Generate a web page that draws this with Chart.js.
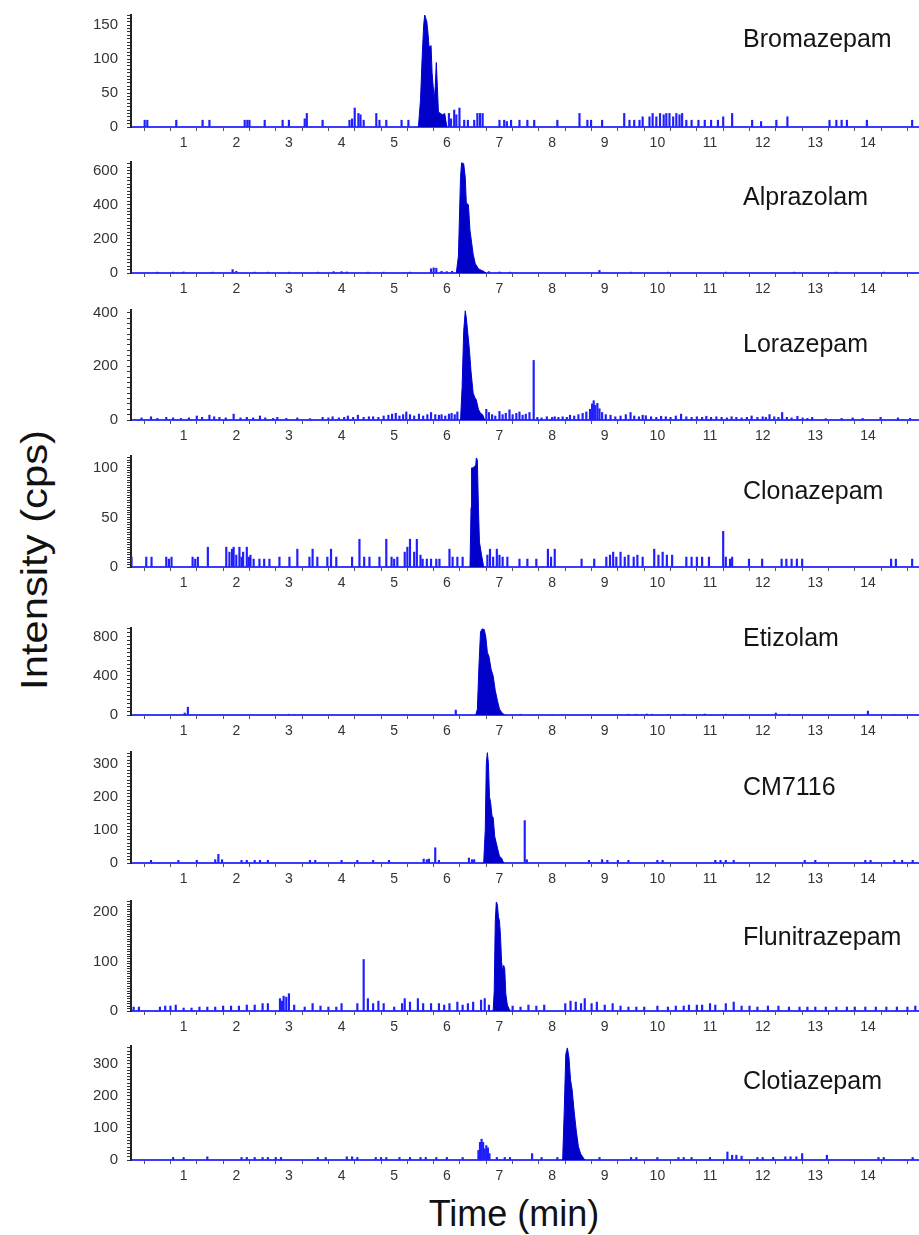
<!DOCTYPE html>
<html>
<head>
<meta charset="utf-8">
<script src="https://cdn.jsdelivr.net/npm/chart.js@4.4.0/dist/chart.umd.min.js"></script>
<style>
    html, body { margin: 0; padding: 0; background: #fff; overflow: hidden; }
    #wrap { position: relative; width: 919px; height: 1235px; }
    #wrap canvas { position: absolute; left: 0; }
    .name { position: absolute; left: 743px; font: 25px "Liberation Sans", Arial, sans-serif; color: #151515; white-space: nowrap; line-height: 28px; }
    .title { position: absolute; width: 0; height: 0; }
    .title span { position: absolute; left: 0; top: 0; white-space: nowrap; font: 36px "Liberation Sans", Arial, sans-serif; color: #111; }
</style>
</head>
<body>
<div id="wrap">
    <div class="title" style="left:35px;top:560px"><span style="transform:translate(-50%,-50%) rotate(-90deg) scaleX(1.16)">Intensity (cps)</span></div>
    <div class="title" style="left:514px;top:1214px"><span style="transform:translate(-50%,-50%)">Time (min)</span></div>
</div>
<script>
// compounds, top to bottom
const compounds = ["Bromazepam", "Alprazolam", "Lorazepam", "Clonazepam", "Etizolam", "CM7116", "Flunitrazepam", "Clotiazepam"];
const yMax = [165, 650, 410, 112, 890, 335, 222, 356];
const yMajor = [50, 200, 200, 50, 400, 100, 100, 100];
const yMinor = [5, 20, 20, 2.5, 40, 10, 5, 10];
const xTickLabels = [1, 2, 3, 4, 5, 6, 7, 8, 9, 10, 11, 12, 13, 14];

// main peaks (time in min, intensity in cps)
const bromPeakT = [5.46, 5.5, 5.53, 5.56, 5.58, 5.6, 5.62, 5.64, 5.66, 5.68, 5.7, 5.72, 5.74, 5.76, 5.78, 5.8, 5.82, 5.84, 5.88, 5.92, 5.96, 6.0];
const bromPeakY = [0, 40, 100, 150, 165, 160, 155, 140, 120, 118, 120, 80, 60, 40, 60, 95, 60, 22, 20, 18, 20, 0];
const alpPeakT = [6.18, 6.22, 6.26, 6.28, 6.32, 6.35, 6.37, 6.41, 6.44, 6.47, 6.5, 6.54, 6.6, 6.66, 6.7, 6.74];
const alpPeakY = [0, 100, 560, 645, 640, 560, 410, 400, 250, 180, 110, 55, 25, 15, 10, 0];
const lorPeakT = [6.26, 6.29, 6.32, 6.35, 6.37, 6.4, 6.43, 6.46, 6.5, 6.53, 6.56, 6.6, 6.64, 6.68, 6.72];
const lorPeakY = [0, 120, 330, 407, 380, 320, 260, 180, 100, 85, 75, 40, 25, 20, 0];
const cloPeakT = [6.44, 6.46, 6.47, 6.5, 6.53, 6.55, 6.56, 6.58, 6.6, 6.62, 6.66, 6.7];
const cloPeakY = [0, 60, 100, 100, 102, 103, 110, 108, 60, 25, 12, 0];
const etiPeakT = [6.55, 6.58, 6.61, 6.64, 6.67, 6.71, 6.74, 6.77, 6.8, 6.84, 6.88, 6.92, 6.96, 7.0, 7.05, 7.1];
const etiPeakY = [0, 60, 500, 850, 880, 875, 800, 640, 600, 470, 400, 250, 150, 60, 20, 0];
const cmPeakT = [6.7, 6.73, 6.75, 6.77, 6.79, 6.81, 6.83, 6.86, 6.88, 6.91, 6.94, 6.97, 7.0, 7.04, 7.08];
const cmPeakY = [0, 100, 300, 333, 300, 200, 185, 140, 138, 80, 60, 40, 20, 15, 0];
const fluPeakT = [6.88, 6.9, 6.92, 6.94, 6.96, 6.98, 7.0, 7.02, 7.04, 7.06, 7.08, 7.1, 7.12, 7.15, 7.2];
const fluPeakY = [0, 40, 180, 220, 215, 190, 182, 150, 100, 80, 92, 85, 35, 12, 0];
const cltPeakT = [8.2, 8.23, 8.26, 8.29, 8.32, 8.35, 8.38, 8.42, 8.46, 8.5, 8.54, 8.58, 8.62];
const cltPeakY = [0, 150, 330, 350, 320, 250, 220, 150, 90, 41, 20, 10, 0];

// noise spikes and minor peaks
const bromNoiseT = [0.26, 0.31, 0.86, 1.36, 1.49, 2.16, 2.21, 2.25, 2.54, 2.88, 3.0, 3.3, 3.34, 3.64, 4.15, 4.2, 4.25, 4.32, 4.36, 4.42, 4.66, 4.72, 4.85, 5.14, 5.27, 6.04, 6.08, 6.14, 6.18, 6.24, 6.33, 6.4, 6.52, 6.58, 6.63, 6.68, 7.0, 7.09, 7.14, 7.22, 7.38, 7.53, 7.66, 8.1, 8.52, 8.67, 8.74, 8.95, 9.37, 9.47, 9.56, 9.66, 9.72, 9.85, 9.91, 9.98, 10.05, 10.12, 10.17, 10.23, 10.3, 10.36, 10.42, 10.47, 10.55, 10.65, 10.78, 10.9, 11.02, 11.15, 11.25, 11.42, 11.8, 11.97, 12.26, 12.47, 13.27, 13.4, 13.5, 13.6, 13.98, 14.84];
const bromNoiseY = [10, 10, 10, 10, 10, 10, 10, 10, 10, 10, 10, 12, 20, 10, 10, 12, 28, 20, 18, 10, 20, 10, 10, 10, 10, 20, 12, 25, 18, 28, 10, 10, 10, 20, 20, 20, 10, 10, 8, 10, 10, 10, 10, 10, 20, 10, 10, 10, 20, 10, 10, 10, 15, 15, 20, 15, 20, 18, 20, 20, 15, 20, 18, 20, 10, 10, 10, 10, 10, 10, 15, 20, 10, 8, 10, 15, 10, 10, 10, 10, 10, 10];
const alpNoiseT = [0.5, 0.8, 1.0, 1.55, 1.93, 2.0, 2.35, 2.6, 3.0, 3.55, 3.85, 4.0, 4.1, 4.5, 4.8, 5.3, 5.7, 5.75, 5.8, 5.9, 6.0, 6.1, 6.8, 7.0, 7.2, 8.9, 9.5, 10.2, 11.3, 12.6, 13.4, 14.3];
const alpNoiseY = [5, 5, 6, 5, 20, 10, 5, 5, 5, 5, 8, 8, 6, 5, 5, 5, 25, 30, 28, 10, 8, 10, 8, 6, 5, 15, 5, 5, 5, 5, 5, 5];
const lorNoiseT = [0.2, 0.38, 0.5, 0.67, 0.8, 0.95, 1.1, 1.25, 1.35, 1.49, 1.58, 1.68, 1.8, 1.95, 2.08, 2.2, 2.32, 2.45, 2.55, 2.7, 2.78, 2.95, 3.16, 3.4, 3.64, 3.75, 3.83, 3.95, 4.05, 4.12, 4.22, 4.31, 4.42, 4.52, 4.6, 4.7, 4.8, 4.89, 4.96, 5.03, 5.1, 5.17, 5.23, 5.3, 5.38, 5.47, 5.55, 5.63, 5.7, 5.78, 5.85, 5.9, 5.97, 6.04, 6.09, 6.15, 6.2, 6.75, 6.8, 6.86, 6.92, 7.0, 7.06, 7.12, 7.19, 7.25, 7.32, 7.38, 7.44, 7.5, 7.57, 7.65, 7.72, 7.8, 7.9, 8.0, 8.05, 8.12, 8.2, 8.28, 8.34, 8.42, 8.5, 8.58, 8.65, 8.72, 8.76, 8.79, 8.82, 8.86, 8.9, 8.95, 9.02, 9.11, 9.2, 9.3, 9.4, 9.49, 9.56, 9.65, 9.72, 9.78, 9.88, 9.98, 10.07, 10.16, 10.25, 10.35, 10.45, 10.55, 10.65, 10.75, 10.85, 10.93, 11.02, 11.12, 11.22, 11.32, 11.41, 11.5, 11.6, 11.7, 11.79, 11.9, 12.0, 12.06, 12.13, 12.22, 12.3, 12.37, 12.46, 12.55, 12.66, 12.76, 12.85, 12.94, 13.2, 13.5, 13.71, 13.9, 14.24, 14.57, 14.8];
const lorNoiseY = [8, 12, 6, 10, 8, 6, 8, 15, 10, 18, 12, 10, 8, 22, 8, 10, 8, 15, 8, 6, 10, 6, 8, 5, 10, 8, 12, 8, 10, 15, 10, 18, 10, 12, 12, 10, 15, 18, 22, 25, 15, 20, 30, 20, 15, 22, 15, 20, 28, 20, 18, 20, 15, 22, 25, 20, 30, 40, 28, 20, 15, 32, 20, 25, 38, 20, 25, 30, 18, 22, 28, 222, 10, 8, 12, 10, 12, 10, 12, 10, 18, 15, 20, 25, 30, 40, 60, 72, 55, 62, 42, 28, 20, 18, 12, 15, 20, 28, 15, 12, 18, 16, 12, 10, 14, 12, 10, 15, 22, 12, 10, 12, 10, 14, 10, 12, 10, 8, 12, 10, 8, 10, 15, 10, 12, 10, 20, 12, 10, 28, 10, 8, 14, 8, 6, 10, 5, 6, 8, 6, 10, 8, 6];
const cloNoiseT = [0.01, 0.29, 0.39, 0.67, 0.72, 0.77, 1.17, 1.22, 1.27, 1.46, 1.81, 1.87, 1.92, 1.95, 2.0, 2.06, 2.1, 2.13, 2.2, 2.24, 2.27, 2.33, 2.44, 2.53, 2.63, 2.82, 3.01, 3.16, 3.39, 3.45, 3.54, 3.73, 3.8, 3.9, 4.2, 4.34, 4.43, 4.53, 4.72, 4.85, 4.95, 5.0, 5.06, 5.2, 5.25, 5.3, 5.38, 5.43, 5.5, 5.54, 5.62, 5.7, 5.8, 5.86, 6.05, 6.11, 6.2, 6.3, 6.77, 6.82, 6.88, 6.95, 7.0, 7.06, 7.15, 7.38, 7.53, 7.7, 7.92, 7.98, 8.05, 8.56, 8.8, 9.03, 9.1, 9.16, 9.22, 9.3, 9.38, 9.45, 9.55, 9.62, 9.72, 9.94, 10.02, 10.1, 10.18, 10.28, 10.55, 10.65, 10.75, 10.85, 10.98, 11.25, 11.3, 11.38, 11.42, 11.74, 11.99, 12.36, 12.45, 12.55, 12.65, 12.75, 14.44, 14.53, 14.84];
const cloNoiseY = [10, 10, 10, 10, 8, 10, 10, 8, 10, 20, 20, 15, 18, 20, 12, 20, 10, 15, 20, 10, 12, 8, 8, 8, 8, 10, 10, 18, 10, 18, 10, 10, 18, 10, 10, 28, 10, 10, 10, 28, 10, 8, 10, 15, 20, 28, 15, 28, 12, 8, 8, 8, 8, 8, 18, 10, 10, 10, 12, 18, 10, 18, 12, 10, 10, 8, 8, 8, 18, 10, 18, 8, 8, 10, 12, 15, 10, 15, 10, 12, 10, 12, 10, 18, 12, 15, 12, 12, 10, 10, 10, 10, 10, 36, 10, 8, 10, 8, 8, 8, 8, 8, 8, 8, 8, 8, 8];
const etiNoiseT = [1.02, 1.08, 3.0, 3.1, 6.17, 7.4, 8.0, 9.45, 9.6, 9.8, 9.9, 10.2, 10.5, 10.9, 11.3, 11.6, 12.25, 12.5, 14.0, 14.5];
const etiNoiseY = [20, 80, 8, 6, 50, 8, 6, 8, 8, 10, 8, 6, 8, 10, 8, 6, 20, 8, 40, 6];
const cmNoiseT = [0.38, 0.9, 1.25, 1.6, 1.66, 1.73, 2.1, 2.2, 2.35, 2.45, 2.6, 3.4, 3.5, 4.0, 4.3, 4.6, 4.9, 5.56, 5.62, 5.66, 5.78, 5.85, 6.42, 6.48, 6.52, 7.48, 7.52, 8.7, 8.95, 9.05, 9.25, 9.45, 10.0, 10.1, 11.1, 11.2, 11.3, 11.45, 12.8, 13.0, 13.95, 14.05, 14.5, 14.65, 14.85];
const cmNoiseY = [8, 8, 8, 10, 26, 10, 8, 8, 8, 8, 8, 8, 8, 8, 8, 8, 8, 12, 10, 12, 46, 8, 15, 10, 10, 128, 10, 8, 10, 8, 8, 8, 8, 8, 8, 8, 8, 8, 8, 8, 8, 8, 8, 8, 8];
const fluNoiseT = [0.05, 0.15, 0.55, 0.65, 0.75, 0.85, 1.0, 1.15, 1.3, 1.45, 1.6, 1.75, 1.9, 2.05, 2.2, 2.35, 2.5, 2.6, 2.83, 2.87, 2.9, 2.95, 3.0, 3.1, 3.3, 3.45, 3.6, 3.75, 3.9, 4.0, 4.3, 4.42, 4.5, 4.6, 4.7, 4.8, 5.0, 5.15, 5.2, 5.3, 5.45, 5.55, 5.7, 5.85, 5.95, 6.05, 6.2, 6.3, 6.4, 6.5, 6.65, 6.72, 6.8, 7.25, 7.4, 7.55, 7.7, 7.85, 8.25, 8.35, 8.45, 8.55, 8.62, 8.75, 8.85, 9.0, 9.15, 9.3, 9.45, 9.6, 9.75, 10.0, 10.2, 10.35, 10.5, 10.6, 10.75, 10.85, 11.0, 11.1, 11.3, 11.45, 11.6, 11.75, 11.9, 12.1, 12.3, 12.5, 12.7, 12.85, 13.0, 13.2, 13.4, 13.6, 13.75, 13.95, 14.15, 14.35, 14.55, 14.75, 14.9];
const fluNoiseY = [8, 8, 8, 10, 10, 12, 6, 6, 8, 8, 8, 10, 10, 10, 12, 12, 15, 15, 25, 20, 30, 28, 35, 12, 8, 15, 10, 8, 8, 15, 15, 104, 25, 15, 20, 15, 8, 15, 25, 18, 25, 15, 15, 15, 12, 15, 18, 12, 15, 18, 22, 25, 12, 10, 8, 12, 10, 12, 15, 20, 18, 15, 25, 15, 18, 12, 15, 10, 8, 8, 8, 10, 8, 10, 10, 12, 12, 12, 15, 12, 15, 18, 10, 10, 8, 10, 10, 8, 8, 8, 8, 8, 8, 8, 8, 8, 8, 8, 8, 8, 10];
const cltNoiseT = [0.8, 1.0, 1.45, 2.1, 2.2, 2.35, 2.5, 2.6, 2.75, 2.85, 3.55, 3.7, 4.1, 4.2, 4.3, 4.65, 4.75, 4.85, 5.1, 5.3, 5.5, 5.6, 5.8, 6.0, 6.3, 6.6, 6.63, 6.66, 6.69, 6.72, 6.75, 6.78, 6.81, 6.95, 7.1, 7.2, 7.62, 7.8, 8.1, 8.9, 9.5, 9.6, 10.0, 10.4, 10.5, 10.65, 11.0, 11.33, 11.42, 11.5, 11.6, 11.9, 12.0, 12.2, 12.43, 12.53, 12.64, 12.75, 13.22, 14.2, 14.3, 14.85];
const cltNoiseY = [8, 8, 10, 8, 8, 8, 8, 8, 8, 8, 8, 8, 10, 10, 8, 8, 8, 8, 8, 8, 8, 8, 8, 8, 8, 30, 55, 65, 55, 35, 45, 38, 20, 8, 8, 8, 20, 8, 8, 8, 8, 8, 8, 8, 8, 8, 8, 25, 15, 15, 12, 8, 8, 8, 10, 10, 10, 20, 15, 8, 8, 8];

const peakTimes = [bromPeakT, alpPeakT, lorPeakT, cloPeakT, etiPeakT, cmPeakT, fluPeakT, cltPeakT];
const peakValues = [bromPeakY, alpPeakY, lorPeakY, cloPeakY, etiPeakY, cmPeakY, fluPeakY, cltPeakY];
const noiseTimes = [bromNoiseT, alpNoiseT, lorNoiseT, cloNoiseT, etiNoiseT, cmNoiseT, fluNoiseT, cltNoiseT];
const noiseValues = [bromNoiseY, alpNoiseY, lorNoiseY, cloNoiseY, etiNoiseY, cmNoiseY, fluNoiseY, cltNoiseY];

// page layout (px)
const axisTop = [15, 162, 310, 456, 628, 752, 901, 1046];
const axisBase = [127, 273, 420, 567, 715, 863, 1011, 1160];
const nameY = [38, 196, 343, 490, 637, 786, 936, 1080];

const wrap = document.getElementById("wrap");
const xFont = { family: "'Liberation Sans', Arial, sans-serif", size: 14 };
const yFont = { family: "'Liberation Sans', Arial, sans-serif", size: 15 };

compounds.forEach(function (name, i) {
    const padTop = 6, xH = 26;
    const h = axisBase[i] - axisTop[i] + padTop + xH;
    const c = document.createElement("canvas");
    c.width = 919;
    c.height = h;
    c.style.top = (axisTop[i] - padTop) + "px";
    c.style.width = "919px";
    c.style.height = h + "px";
    wrap.appendChild(c);

    const lbl = document.createElement("div");
    lbl.className = "name";
    lbl.style.top = (nameY[i] - 14) + "px";
    lbl.textContent = name;
    wrap.appendChild(lbl);

    new Chart(c.getContext("2d"), {
        type: "line",
        data: {
            datasets: [
                {
                    type: "bar",
                    data: noiseTimes[i].map((t, k) => ({ x: t, y: noiseValues[i][k] })),
                    backgroundColor: "#1e1eff",
                    barThickness: 1.5,
                    borderWidth: 0,
                },
                {
                    data: peakTimes[i].map((t, k) => ({ x: t, y: peakValues[i][k] })),
                    borderColor: "#0000d8",
                    backgroundColor: "#0000c8",
                    borderWidth: 1,
                    fill: "origin",
                    pointRadius: 0,
                    tension: 0,
                },
            ],
        },
        options: {
            responsive: false,
            animation: false,
            devicePixelRatio: 1,
            events: [],
            layout: { padding: { top: padTop, left: 0, right: 0, bottom: 0 } },
            plugins: { legend: { display: false }, tooltip: { enabled: false } },
            scales: {
                x: {
                    type: "linear",
                    min: 0,
                    max: 14.97,
                    offset: false,
                    afterFit: (s) => { s.height = xH; s.paddingLeft = 0; s.paddingRight = 0; },
                    ticks: {
                        stepSize: 0.5,
                        includeBounds: false,
                        autoSkip: false,
                        maxRotation: 0,
                        padding: 4,
                        font: xFont,
                        color: "#333",
                        callback: (v) => xTickLabels.includes(v) ? String(v) : "",
                    },
                    grid: { drawOnChartArea: false, tickLength: 4, tickColor: "#555" },
                    border: { color: "#3c3cff", width: 2 },
                },
                y: {
                    min: 0,
                    max: yMax[i],
                    afterFit: (s) => { s.width = 131; s.paddingTop = 0; s.paddingBottom = 0; },
                    ticks: {
                        stepSize: yMinor[i],
                        includeBounds: false,
                        autoSkip: false,
                        maxTicksLimit: 500,
                        padding: 9,
                        font: yFont,
                        color: "#333",
                        callback: (v) => {
                            const r = v / yMajor[i];
                            return Math.abs(r - Math.round(r)) < 1e-6 ? String(v) : "";
                        },
                    },
                    grid: { drawOnChartArea: false, tickLength: 4, tickColor: "#333" },
                    border: { color: "#222", width: 2 },
                },
            },
        },
    });
});
</script>
</body>
</html>
